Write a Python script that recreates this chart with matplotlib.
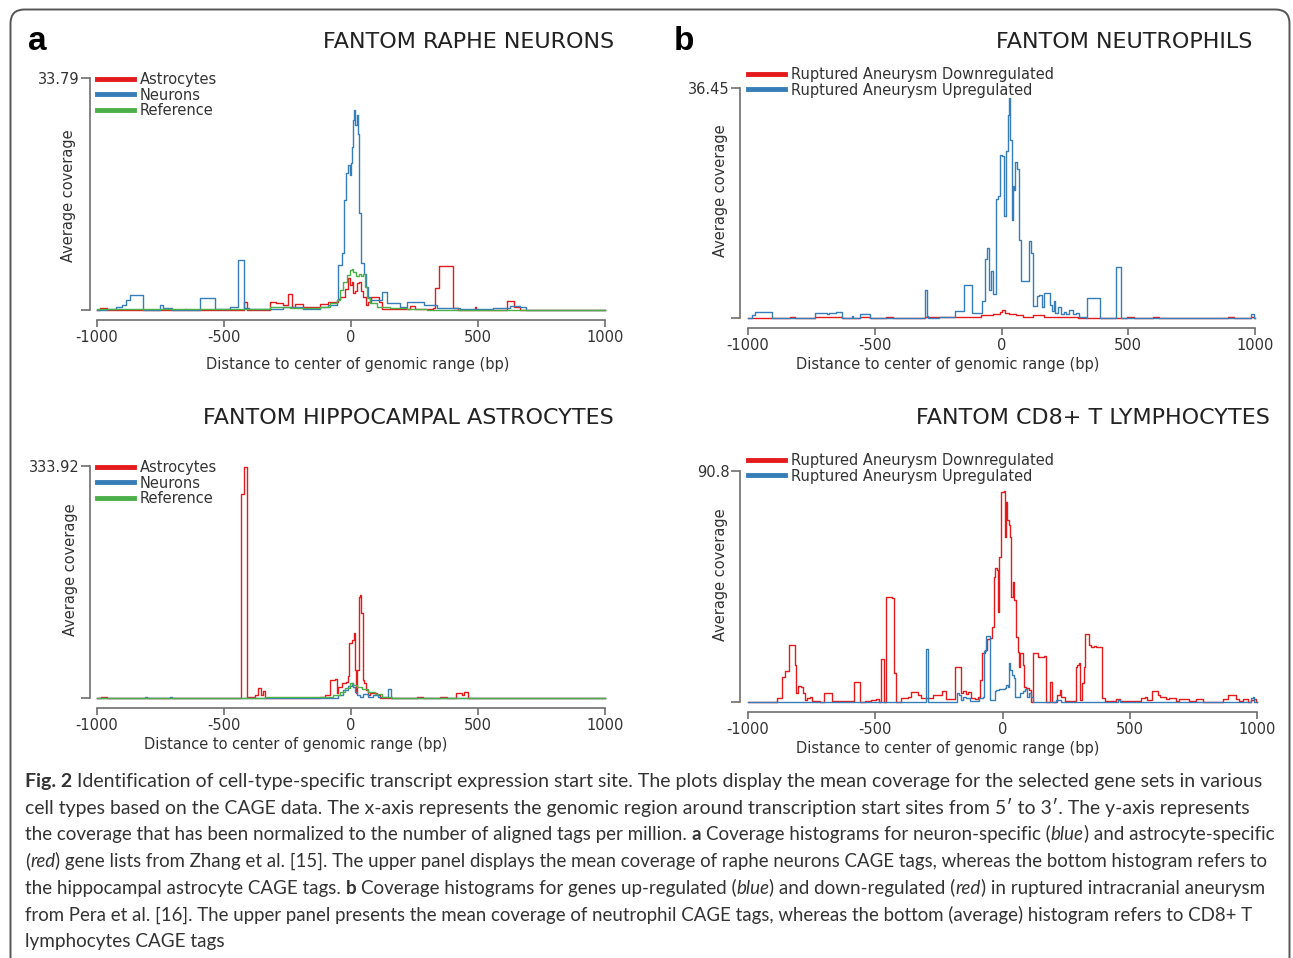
import matplotlib
matplotlib.use('Agg')
import matplotlib.pyplot as plt
from matplotlib.lines import Line2D
from matplotlib.patches import FancyBboxPatch
from matplotlib.transforms import IdentityTransform

W, H = 1293, 958
RED, BLUE, GREEN = '#e41a1c', '#377eb8', '#4daf4a'

# ---- panel a, top: FANTOM raphe neurons (step start, value) ----
raphe_astro_x = [-1000, -988, -962, -421, -408, -319, -295, -266, -248, -234, -220, -188, -122, -89, -50, -43,
                 -24, -11, -4, 4, 9, 17, 25, 33, 41, 48, 59, 68, 77, 111, 122, 232, 252, 324, 331, 348, 400,
                 420, 488, 494, 616, 640, 665, 1000]
raphe_astro = [0, 0.3, 0, 1.2, 0, 1.2, 1.0, 0.7, 2.3, 0.5, 0.9, 0.4, 0.9, 1.2, 1.6, 1.9,
               3.1, 4.6, 3.6, 4.1, 2.5, 2.7, 3.9, 4.1, 2.7, 1.9, 0.7, 1.2, 1.9, 1.2, 0.2, 0.6, 0.2, 0.3, 3.2, 6.4, 0.3,
               0, 0.4, 0, 1.3, 0.4, 0, 0]
raphe_neu_x = [-1000, -960, -925, -900, -884, -872, -818, -752, -740, -706, -654, -648, -595, -535, -478, -444,
               -421, -400, -320, -266, -188, -122, -89, -56, -50, -37, -28, -20, -10, -4, -1, 3, 7, 12, 17, 22,
               28, 30, 41, 51, 59, 68, 75, 121, 140, 193, 219, 289, 337, 430, 500, 560, 626, 667, 690, 1000]
raphe_neu = [0, 0.2, 0.4, 0.8, 1.5, 2.2, 0, 0.7, 0.3, 0, 0.1, 0, 1.7, 0.1, 0.4, 7.3,
             0.3, 0.1, 0.2, 0.4, 0.1, 0.5, 0.7, 1.5, 6.5, 8.3, 16.0, 19.9, 21.1, 19.7, 21.4, 23.8, 27.7, 29.1, 26.9, 28.4,
             25.7, 14.1, 6.8, 5.3, 3.4, 1.9, 1.46, 2.67, 0.97, 0.5, 1.17, 0.7, 0.3, 0.15, 0.2, 0.3, 0.6, 0.4, 0, 0]
raphe_ref_x = [-1000, -319, -240, -122, -83, -56, -43, -30, -17, -4, 3, 9, 20, 30, 39, 46, 55, 62, 75, 101,
               154, 219, 300, 1000]
raphe_ref = [0.1, 0.4, 0.25, 0.5, 0.97, 1.46, 2.9, 4.1, 5.1, 5.8, 6.0, 5.6, 4.9, 5.3, 4.9, 5.3, 3.4, 1.7, 0.97, 0.5,
             0.3, 0.15, 0, 0]

# ---- panel b, top: FANTOM neutrophils ----
neut_down_x = [-1000, -836, -816, -737, -631, -557, -520, -455, -429, -300, -185, -80, -32, -5, 3, 12, 30, 57, 83,
               123, 169, 300, 334, 496, 521, 596, 623, 892, 919, 985, 998, 1000]
neut_down = [0, 0.15, 0, 0.15, 0, 0.15, 0, 0.15, 0, 0.1, 0.1, 0.4, 0.6, 1.0, 1.2, 0.8, 0.6, 0.4, 0.1,
             0.4, 0.1, 0.05, 0, 0.15, 0, 0.15, 0, 0.15, 0, 0.15, 0, 0]
neut_up_x = [-1000, -985, -974, -906, -735, -690, -680, -652, -629, -591, -585, -560, -517, -301, -295, -290,
             -248, -185, -149, -117, -78, -67, -58, -50, -42, -34, -21, -12, -4, 3, 10, 18, 25, 30, 35, 40, 46,
             51, 55, 60, 68, 77, 107, 115, 123, 140, 149, 160, 169, 193, 200, 206, 213, 222, 233, 245, 255,
             268, 281, 294, 307, 334, 338, 387, 453, 471, 985, 998, 1000]
neut_up = [0, 0.5, 0.95, 0, 0.8, 0.7, 0.8, 0.9, 0, 0.3, 0, 0.6, 0, 4.5, 0.3, 0,
           0.2, 1.1, 5.2, 0.8, 2.7, 9.3, 11.1, 4.5, 7.4, 3.8, 18.8, 19.3, 25.9, 25.6, 16.1, 26.4, 32.2, 34.8, 28.2, 15.6, 20.9,
           20.3, 24.8, 23.6, 12.4, 5.8, 12.2, 10.3, 1.9, 3.5, 3.7, 1.7, 4.0, 2.1, 1.1, 2.7, 0.8, 1.7, 0.7, 0.9, 0.7,
           1.3, 0.6, 0.8, 0.2, 0, 3.2, 0, 8.1, 0, 0.6, 0, 0]

# ---- panel a, bottom: FANTOM hippocampal astrocytes ----
hippo_astro_x = [-1000, -985, -960, -433, -421, -408, -379, -365, -355, -348, -338, -122, -102, -83, -63, -56, -50,
                 -37, -20, -11, -7, 3, 12, 16, 20, 25, 30, 35, 41, 46, 52, 59, 68, 75, 101, 114, 258, 285, 350,
                 377, 412, 438, 445, 462, 1000]
hippo_astro = [0, 1.5, 0, 293, 332, 2, 4, 15, 4, 10.5, 0, 1, 4, 26, 27, 7, 16,
               21, 23.5, 31, 79, 83, 93, 40, 7, 40, 146, 148, 122, 26, 21, 11.5, 4, 7, 4, 0, 1, 0, 1,
               0, 7, 4, 9, 0, 0]
hippo_neu_x = [-1000, -812, -805, -712, -706, -339, -150, -50, -30, -11, 3, 9, 16, 22, 35, 48, 68, 88, 108, 147,
               157, 1000]
hippo_neu = [0, 1, 0, 1, 0, 0.3, 0.5, 4, 11.5, 17, 21, 16, 9, 4, 2, 6, 2, 4, 1, 12.5,
             0, 0]
hippo_ref_x = [-1000, -339, -122, -70, -43, -24, -4, 7, 22, 42, 68, 94, 121, 160, 1000]
hippo_ref = [0, 1, 1, 4, 9, 15, 22, 19, 16, 12.5, 9, 6, 2, 0, 0]

# ---- panel b, bottom: FANTOM CD8+ T lymphocytes ----
cd8_down_x = [-1000, -885, -866, -854, -840, -817, -811, -804, -791, -785, -775, -767, -758, -749, -719, -703,
              -671, -621, -582, -559, -542, -516, -496, -487, -479, -466, -457, -435, -427, -418, -398, -372,
              -361, -333, -319, -296, -274, -237, -221, -199, -186, -165, -156, -145, -134, -123, -110, -97,
              -88, -81, -68, -60, -51, -41, -35, -29, -22, -17, -12, -4, 4, 8, 12, 18, 25, 31, 35, 41, 47, 54,
              60, 64, 70, 80, 85, 93, 103, 113, 119, 141, 162, 169, 185, 196, 215, 224, 230, 244, 287, 293,
              300, 306, 313, 322, 326, 339, 349, 361, 368, 392, 401, 447, 460, 545, 558, 567, 588, 610, 620,
              643, 656, 682, 693, 708, 732, 761, 787, 866, 885, 916, 931, 944, 964, 977, 990, 997, 1000]
cd8_down = [0, 1.4, 10, 12, 22.4, 14.5, 3.7, 6.3, 5.8, 3.4, 0.8, 1.4, 1.8, 0.4, 0, 3.4,
            0.5, 0.3, 7.7, 0, 0.3, 0.8, 1.0, 0, 16.9, 0, 41.4, 40.7, 11.3, 0, 1.4, 1.8,
            3.9, 2.8, 1.4, 1.7, 2.6, 4.5, 1.2, 1.0, 13.9, 3.4, 4.5, 3.1, 4.0, 1.4, 1.2, 2.1,
            8.6, 19.1, 20.4, 24.6, 25, 29.6, 49, 52.5, 52, 35.5, 57, 82.7, 83, 65, 78.7, 71.5, 69.6, 65, 41.4, 47.3, 40, 25.7,
            19.8, 13.9, 19.4, 14.5, 6, 5.4, 4.7, 0, 19.1, 17.6, 18, 0, 8, 0, 2.8, 4.7, 2.1, 0.5, 13.9, 14.5,
            15.5, 0.8, 7.3, 13.9, 26.7, 22.4, 21.7, 22, 21.7, 1.4, 0.5, 1, 0.5, 1.4, 1.8, 0.8, 4.2, 2.8, 1.8,
            1, 1.6, 0.5, 1.3, 1, 0.3, 1, 0, 1.3, 2.8, 1, 0.5, 1, 0, 0.8, 1, 0, 0]
cd8_up_x = [-1000, -300, -293, -178, -169, -162, -156, -143, -126, -93, -77, -71, -64, -48, -31, -27, -12, 8, 15,
            21, 25, 31, 38, 44, 48, 60, 70, 80, 90, 97, 103, 111, 119, 211, 230, 453, 460, 977, 983, 990, 1000]
cd8_up = [0, 21, 0, 3.4, 2.8, 0.8, 1.8, 1.4, 0.4, 1.4, 2.1, 20.2, 26, 0.8, 4.5, 4.7, 5, 5.4, 6.7,
          6, 15.2, 12.6, 10.6, 9.3, 1.8, 2.1, 3.4, 4.5, 5, 1.8, 3.4, 1.8, 0, 0.8, 0, 0.8, 0, 1.4, 2.1, 0, 0]

ticks_x = [-1000, -500, 0, 500, 1000]
xlabel = 'Distance to center of genomic range (bp)'
ylabel = 'Average coverage'
labels_a = ['Astrocytes', 'Neurons', 'Reference']
labels_b = ['Ruptured Aneurysm Downregulated', 'Ruptured Aneurysm Upregulated']


def fx(px):
    return px / W


def fy(py):
    return 1 - py / H


fig = plt.figure(figsize=(W / 100, H / 100), dpi=100)

# rounded frame round the figure (runs past the bottom edge)
frame = FancyBboxPatch((10.5, -40), 1279, 988.5, boxstyle='round,pad=0,rounding_size=14',
                       transform=IdentityTransform(), fill=False, edgecolor='#555555', lw=1.4)
fig.add_artist(frame)


def panel(box, ymax, ylab_txt, series, colors, labels, title, title_xy, ylab_xy, xlab_xy, leg_xy, yout, xout):
    left, right, top, bottom = box
    ax = fig.add_axes([fx(left), fy(bottom), (right - left) / W, (bottom - top) / H])
    for (x, y), c in zip(series, colors):
        ax.plot(x, y, drawstyle='steps-post', color=c, lw=1.0, clip_on=False)
    ax.set_xlim(-1000, 1000)
    ax.set_ylim(0, ymax)
    ax.set_facecolor('none')
    for s in ['top', 'right']:
        ax.spines[s].set_visible(False)
    ax.spines['left'].set_position(('outward', yout))
    ax.spines['bottom'].set_position(('outward', xout))
    ax.spines['left'].set_bounds(0, ymax)
    ax.spines['bottom'].set_bounds(-1000, 1000)
    for s in ['left', 'bottom']:
        ax.spines[s].set_color('#6e6e6e')
        ax.spines[s].set_linewidth(1.2)
    ax.set_xticks(ticks_x)
    ax.set_xticklabels([str(t) for t in ticks_x])
    ax.set_yticks([0, ymax])
    ax.set_yticklabels(['', ylab_txt])
    ax.tick_params(colors='#6e6e6e', labelcolor='#333333', labelsize=10.5, width=1.2)
    ax.tick_params(axis='y', length=6.5, pad=1)
    ax.tick_params(axis='x', length=5, pad=2)
    handles = [Line2D([], [], color=c, lw=3.5) for c in colors]
    ax.legend(handles, labels, loc='upper left', bbox_to_anchor=(fx(leg_xy[0]), fy(leg_xy[1])),
              bbox_transform=fig.transFigure, frameon=False, borderpad=0, borderaxespad=0,
              handlelength=2.55, handletextpad=0.4, labelspacing=0.035, fontsize=10.5, labelcolor='#333333')
    fig.text(fx(title_xy[0]), fy(title_xy[1]), title, ha='right', va='center', fontsize=16, color='#222222')
    fig.text(fx(ylab_xy[0]), fy(ylab_xy[1]), ylabel, rotation=90, ha='center', va='center',
             fontsize=10.5, color='#333333')
    fig.text(fx(xlab_xy[0]), fy(xlab_xy[1]), xlabel, ha='center', va='center', fontsize=10.5, color='#333333')
    return ax


panel((97, 605, 78, 310), 33.79, '33.79',
      [(raphe_astro_x, raphe_astro), (raphe_neu_x, raphe_neu), (raphe_ref_x, raphe_ref)],
      [RED, BLUE, GREEN], labels_a, 'FANTOM RAPHE NEURONS', (614, 42), (68, 196), (358, 364), (97, 72), 5, 7.2)
panel((748, 1255, 88, 318), 36.45, '36.45',
      [(neut_down_x, neut_down), (neut_up_x, neut_up)],
      [RED, BLUE], labels_b, 'FANTOM NEUTROPHILS', (1252, 42), (720, 191), (948, 364), (748, 67), 5.8, 7.2)
panel((97, 605, 466, 698), 333.92, '333.92',
      [(hippo_astro_x, hippo_astro), (hippo_neu_x, hippo_neu), (hippo_ref_x, hippo_ref)],
      [RED, BLUE, GREEN], labels_a, 'FANTOM HIPPOCAMPAL ASTROCYTES', (614, 418), (70, 570), (296, 744), (97, 460),
      5, 7.2)
panel((748, 1257, 471, 702), 90.8, '90.8',
      [(cd8_down_x, cd8_down), (cd8_up_x, cd8_up)],
      [RED, BLUE], labels_b, 'FANTOM CD8+ T LYMPHOCYTES', (1270, 418), (720, 575), (948, 748), (748, 453), 5.8, 7.2)

# panel letters
fig.text(fx(28), fy(42), 'a', fontsize=24, fontweight='bold', family='Liberation Sans', va='center')
fig.text(fx(674), fy(42), 'b', fontsize=24, fontweight='bold', family='Liberation Sans', va='center')

# caption, drawn piece by piece so bold / italic words sit inline
caption = [
    [('Fig. 2', 'b'), (' Identification of cell-type-specific transcript expression start site. The plots display the '
                       'mean coverage for the selected gene sets in various', 'n')],
    [('cell types based on the CAGE data. The x-axis represents the genomic region around transcription start '
      'sites from 5\u2032 to 3\u2032. The y-axis represents', 'n')],
    [('the coverage that has been normalized to the number of aligned tags per million. ', 'n'), ('a', 'b'),
     (' Coverage histograms for neuron-specific (', 'n'), ('blue', 'i'), (') and astrocyte-specific', 'n')],
    [('(', 'n'), ('red', 'i'), (') gene lists from Zhang et al. [15]. The upper panel displays the mean coverage of '
                                'raphe neurons CAGE tags, whereas the bottom histogram refers to', 'n')],
    [('the hippocampal astrocyte CAGE tags. ', 'n'), ('b', 'b'), (' Coverage histograms for genes up-regulated (', 'n'),
     ('blue', 'i'), (') and down-regulated (', 'n'), ('red', 'i'), (') in ruptured intracranial aneurysm', 'n')],
    [('from Pera et al. [16]. The upper panel presents the mean coverage of neutrophil CAGE tags, whereas the '
      'bottom (average) histogram refers to CD8+ T', 'n')],
    [('lymphocytes CAGE tags', 'n')],
]
# right end of each caption line in the reference (px), less a small measuring overshoot
caption_end = [1261, 1246, 1271, 1261, 1258, 1248, None]

cap_font = ['Lato', 'DejaVu Sans']
base_size = 13.0
renderer = fig.canvas.get_renderer()


def props(style, size):
    return dict(family=cap_font, fontsize=size, color='#333333',
                fontweight='bold' if style == 'b' else 'normal',
                fontstyle='italic' if style == 'i' else 'normal')


def width(s, style, size):
    t = fig.text(0, 0, '|' + s + '|', **props(style, size))
    t2 = fig.text(0, 0, '||', **props(style, size))
    w = t.get_window_extent(renderer).width - t2.get_window_extent(renderer).width
    t.remove()
    t2.remove()
    return w


sizes = []
for line, end in zip(caption, caption_end):
    if end is None:
        sizes.append(sum(sizes) / len(sizes))
        continue
    natural = sum(width(s, st, base_size) for s, st in line)
    sizes.append(base_size * (end - 25) / natural)

for i, line in enumerate(caption):
    x = 25
    y = 787 + 26.67 * i
    size = sizes[i]
    for s, style in line:
        lead = s[:len(s) - len(s.lstrip())]
        if s.strip():
            fig.text(fx(x + (width(lead, style, size) if lead else 0)), fy(y), s.strip(), va='baseline',
                     **props(style, size))
        x += width(s, style, size)

fig.savefig('out.png', dpi=100)
